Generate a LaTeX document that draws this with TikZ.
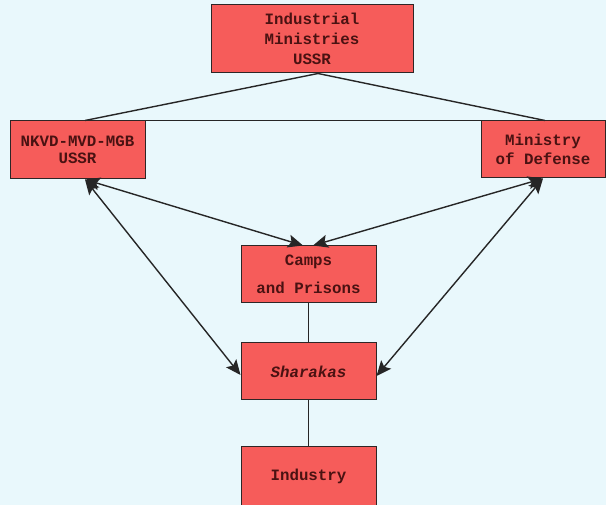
\documentclass[tikz,border=0pt]{standalone}
\usepackage{fontspec}
\newfontfamily\cour{Liberation Mono}
\usetikzlibrary{arrows.meta}
\definecolor{bgc}{HTML}{E9F8FC}
\definecolor{boxc}{HTML}{F65C5A}
\definecolor{txtc}{HTML}{4A1212}
\definecolor{edgec}{HTML}{2E2626}
\tikzset{
  box/.style={draw=edgec, line width=1pt, fill=boxc, text=txtc, align=center,
    font=\cour\bfseries\fontsize{15.8}{20}\selectfont, inner sep=0pt, anchor=center},
  link/.style={draw=black!85, line width=1.4pt},
  tip/.style={Stealth[length=15pt,width=13pt,inset=3pt,line width=0pt]},
  twoway/.style={link, {Stealth[length=15pt,width=13pt,inset=3pt]}-{Stealth[length=15pt,width=13pt,inset=3pt]}}
}
\begin{document}
\begin{tikzpicture}[x=1pt,y=-1pt]
\fill[bgc] (0,0) rectangle (606,505);
\useasboundingbox (0,0) rectangle (606,505);
\node[box, minimum width=202pt, minimum height=68pt] (ind) at (312,39) {Industrial\\Ministries\\USSR};
\node[box, minimum width=135pt, minimum height=58pt, font=\cour\bfseries\fontsize{15.8}{17}\selectfont] (nk) at (77.5,150) {NKVD-MVD-MGB\\USSR};
\node[box, minimum width=124pt, minimum height=57pt, font=\cour\bfseries\fontsize{15.8}{19}\selectfont] (md) at (543,149.5) {Ministry\\of Defense};
\node[box, minimum width=135pt, minimum height=57pt] (cp) at (308.5,274.5) {Camps\\[8pt]and Prisons};
\node[box, minimum width=135pt, minimum height=57pt] (sh) at (308.5,371.5) {\itshape Sharakas};
\node[box, minimum width=135pt, minimum height=59pt] (in) at (308.5,476.5) {Industry};
\coordinate (nkt) at ([xshift=7.5pt]nk.north);
\coordinate (mdt) at ([xshift=2pt]md.north);
\coordinate (nkb) at ([xshift=7.5pt]nk.south);
\coordinate (mdb) at ([xshift=0pt]md.south);
\coordinate (cpl) at ([xshift=-5.5pt]cp.north);
\coordinate (cpr) at ([xshift=4.5pt]cp.north);
\draw[link] ([xshift=6pt]ind.south) -- (nkt);
\draw[link] ([xshift=6pt]ind.south) -- (mdt);
\draw[link] (nk.north east) -- (md.north west);
\draw[link] (cp.south) -- (sh.north);
\draw[link] (sh.south) -- (in.north);
\draw[twoway] (nkb) -- (cpl);
\draw[twoway] (mdb) -- (cpr);
\draw[twoway] (nkb) -- ([yshift=-3.5pt]sh.west);
\draw[twoway] (mdb) -- ([yshift=-4.5pt]sh.east);
\end{tikzpicture}
\end{document}
